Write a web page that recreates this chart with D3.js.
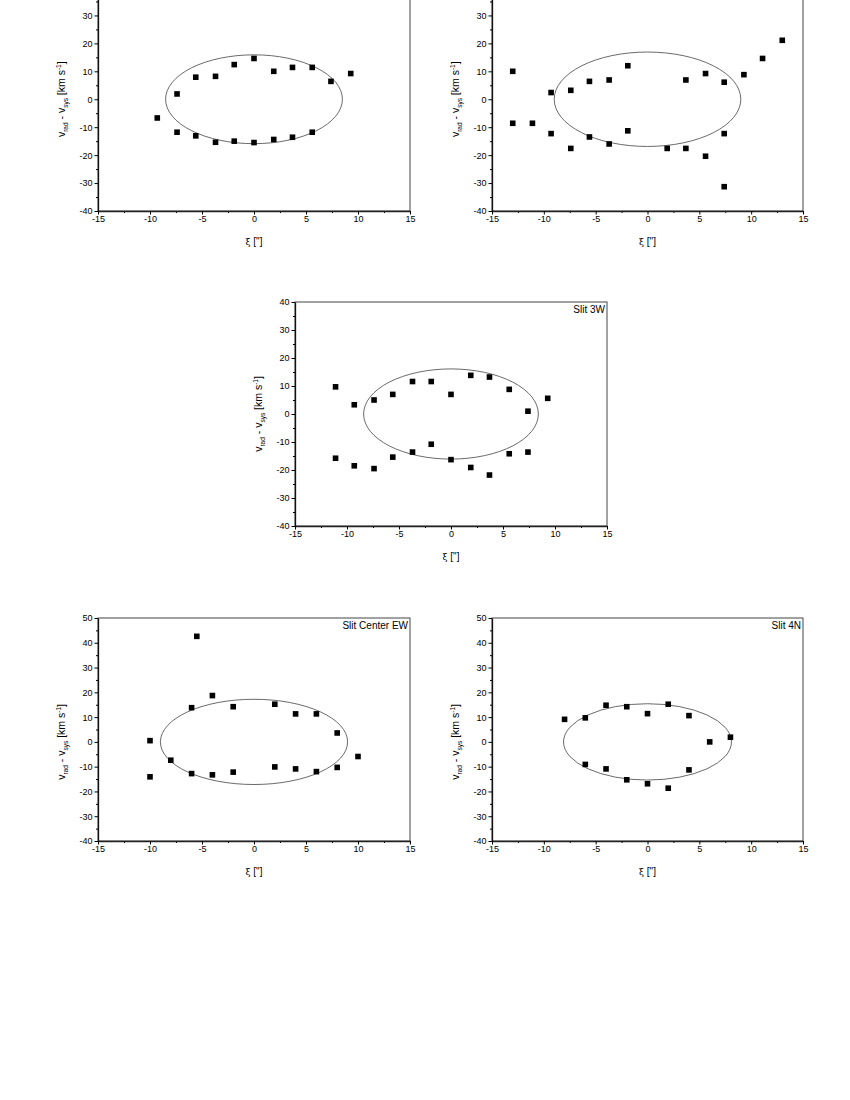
<!DOCTYPE html>
<html lang="en">
	<head>
		<title>Slit velocity plots</title>
		<script src="https://d3js.org/d3.v7.min.js"></script>
		<style>
			body { margin: 0; background: #fff; }
			text { font-family: "Liberation Sans", Arial, sans-serif; }
		</style>
	</head>
	<body>
		<script>

			// panel 1 (top left, title cropped off)
			xi1 = [-9.3, -7.4, -7.4, -5.6, -5.6, -3.7, -3.7, -1.9, -1.9, 0, 0, 1.9, 1.9, 3.7, 3.7, 5.6, 5.6, 7.4, 9.3];
			v1  = [-6.7, 1.9, -11.8, 7.9, -13.1, 8.2, -15.4, 12.4, -15.0, 14.6, -15.5, 10.0, -14.4, 11.4, -13.6, 11.4, -11.8, 6.4, 9.2];

			// panel 2 (top right, title cropped off)
			xi2 = [-13.0, -13.0, -11.1, -9.3, -9.3, -7.4, -7.4, -5.6, -5.6, -3.7, -3.7, -1.9, -1.9, 1.9, 3.7, 3.7, 5.6, 5.6, 7.4, 7.4, 7.4, 9.3, 11.1, 13.0];
			v2  = [10.0, -8.6, -8.6, 2.4, -12.3, 3.2, -17.6, 6.4, -13.5, 6.9, -16.0, 12.0, -11.3, -17.6, 6.9, -17.6, 9.2, -20.4, 6.1, -12.3, -31.3, 8.8, 14.6, 21.1];

			// Slit 3W
			xi3 = [-11.1, -11.1, -9.3, -9.3, -7.4, -7.4, -5.6, -5.6, -3.7, -3.7, -1.9, -1.9, 0, 0, 1.9, 1.9, 3.7, 3.7, 5.6, 5.6, 7.4, 7.4, 9.3];
			v3  = [9.7, -15.8, 3.3, -18.5, 5.0, -19.5, 7.0, -15.4, 11.6, -13.6, 11.6, -10.8, 7.0, -16.3, 13.8, -19.1, 13.2, -21.8, 8.8, -14.2, 1.0, -13.6, 5.6];

			// Slit Center EW
			xi4 = [-10, -10, -8, -6, -6, -5.5, -4, -4, -2, -2, 2, 2, 4, 4, 6, 6, 8, 8, 10];
			v4  = [0.5, -14.1, -7.4, 13.8, -12.8, 42.6, 18.7, -13.3, 14.2, -12.2, 15.2, -10.1, 11.3, -10.9, 11.3, -12.0, 3.6, -10.3, -5.9];

			// Slit 4N
			xi5 = [-8, -6, -6, -4, -4, -2, -2, 0, 0, 2, 2, 4, 4, 6, 8];
			v5  = [9.1, 9.7, -9.1, 14.8, -10.9, 14.2, -15.3, 11.4, -16.9, 15.2, -18.7, 10.6, -11.3, 0.0, 1.9];

			titles = ["", "", "Slit 3W", "Slit Center EW", "Slit 4N"];
			yMax = [40, 40, 40, 50, 50];
			// ellipse semi-axes (xi, v)
			ellA = [8.5, 9.0, 8.4, 9.0, 8.1];
			ellB = [15.9, 16.9, 16.1, 17.2, 15.4];

			xTicks = [-15, -10, -5, 0, 5, 10, 15];
			xMinor = [-12.5, -7.5, -2.5, 2.5, 7.5, 12.5];

			var width = 850, height = 1100;
			var svg = d3.select("body").append("svg")
				.attr("width", width).attr("height", height);

			// plot frames: left, top, width, height
			boxes = [
				{left: 98, top: -12.5, w: 312, h: 223.5},
				{left: 492, top: -12.5, w: 311, h: 223.5},
				{left: 295, top: 302, w: 312, h: 224},
				{left: 98, top: 618, w: 312, h: 223},
				{left: 492, top: 618, w: 311, h: 223}
			];

			xis = [xi1, xi2, xi3, xi4, xi5];
			vs = [v1, v2, v3, v4, v5];

			// plain hyphen minus, as in the original
			fmt = d => String(d);

			boxes.forEach(function(b, i) {
				var g = svg.append("g");
				var x = d3.scaleLinear().domain([-15, 15]).range([b.left, b.left + b.w]);
				var y = d3.scaleLinear().domain([-40, yMax[i]]).range([b.top + b.h, b.top]);

				var yTicks = d3.range(-40, yMax[i] + 1, 10).filter(t => y(t) > 0);
				var yMinor = d3.range(-35, yMax[i], 10);

				// frame
				g.append("rect")
					.attr("x", b.left).attr("y", b.top)
					.attr("width", b.w).attr("height", b.h)
					.attr("fill", "none").attr("stroke", "#444").attr("stroke-width", 1);

				// x axis
				g.append("g")
					.attr("transform", `translate(0,${b.top + b.h})`)
					.call(d3.axisBottom(x).tickValues(xMinor).tickSize(2).tickFormat(""))
					.call(a => a.select(".domain").remove());
				g.append("g")
					.attr("transform", `translate(0,${b.top + b.h})`)
					.call(d3.axisBottom(x).tickValues(xTicks).tickFormat(fmt).tickSize(3.5).tickPadding(1.5).tickSizeOuter(0))
					.call(a => a.select(".domain").attr("stroke", "#222").attr("stroke-width", 1.3))
					.call(a => a.selectAll("text").attr("font-size", 9).attr("fill", "#000")
						.attr("font-family", "Liberation Sans, Arial, sans-serif"));

				// y axis
				g.append("g")
					.attr("transform", `translate(${b.left},0)`)
					.call(d3.axisLeft(y).tickValues(yMinor).tickSize(2).tickFormat(""))
					.call(a => a.select(".domain").remove());
				g.append("g")
					.attr("transform", `translate(${b.left},0)`)
					.call(d3.axisLeft(y).tickValues(yTicks).tickFormat(fmt).tickSize(3.5).tickPadding(2).tickSizeOuter(0))
					.call(a => a.select(".domain").attr("stroke", "#111").attr("stroke-width", 1.3))
					.call(a => a.selectAll("text").attr("font-size", 9).attr("fill", "#000")
						.attr("font-family", "Liberation Sans, Arial, sans-serif"));

				// ellipse
				g.append("ellipse")
					.attr("cx", x(0)).attr("cy", y(0))
					.attr("rx", x(ellA[i]) - x(0))
					.attr("ry", y(0) - y(ellB[i]))
					.attr("fill", "none").attr("stroke", "#444").attr("stroke-width", 0.8);

				// points
				var pts = xis[i].map((d, k) => ({xi: d, v: vs[i][k]}));
				var s = 5.6;
				g.append("g")
					.attr("fill", "#000")
					.selectAll("rect")
					.data(pts)
					.enter().append("rect")
						.attr("x", d => x(d.xi) - s / 2)
						.attr("y", d => y(d.v) - s / 2)
						.attr("width", s).attr("height", s);

				// title
				if (titles[i]) {
					g.append("text")
						.attr("x", b.left + b.w - 2)
						.attr("y", b.top + 10.5)
						.attr("text-anchor", "end")
						.attr("font-size", 10)
						.text(titles[i]);
				}

				// x label
				var xl = g.append("text")
					.attr("x", x(0))
					.attr("y", b.top + b.h + 34)
					.attr("text-anchor", "middle")
					.attr("font-size", 10);
				xl.append("tspan").attr("font-family", "DejaVu Serif, serif").attr("font-size", 9).text("ξ");
				xl.append("tspan").text(" [\"]");

				// y label
				var yl = g.append("text")
					.attr("transform", `translate(${b.left - 33},${y(0)}) rotate(-90)`)
					.attr("text-anchor", "middle")
					.attr("font-size", 10.5);
				yl.append("tspan").text("v");
				yl.append("tspan").attr("font-size", 6.5).attr("dy", 2.5).text("rad");
				yl.append("tspan").attr("dy", -2.5).text(" - v");
				yl.append("tspan").attr("font-size", 6.5).attr("dy", 2.5).text("sys");
				yl.append("tspan").attr("dy", -2.5).text(" [km s");
				yl.append("tspan").attr("font-size", 6.5).attr("dy", -4.5).text("-1");
				yl.append("tspan").attr("dy", 4.5).text("]");
			});

		</script>
	</body>
</html>
